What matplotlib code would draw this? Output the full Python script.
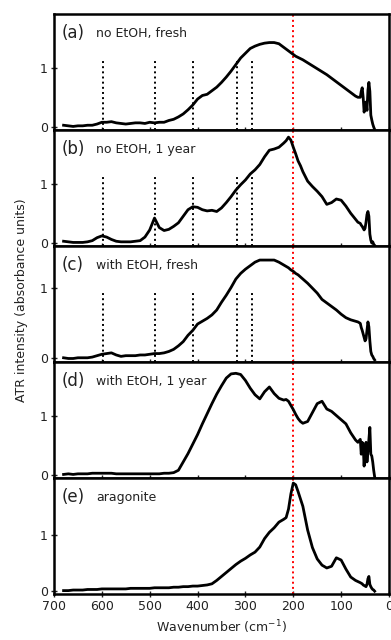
import matplotlib
matplotlib.use("Agg")
import matplotlib.pyplot as plt

# ---- data ----
wavenumber = [680, 670, 660, 650, 640, 630, 620, 610, 600, 590,
              580, 570, 560, 550, 540, 530, 520, 510, 500, 490,
              480, 470, 460, 450, 440, 430, 420, 410, 400, 390,
              380, 370, 360, 350, 340, 330, 320, 310, 300, 290,
              280, 270, 260, 250, 240, 230, 220,
              215, 210, 205, 200, 195, 190, 185, 180,
              170, 160, 150, 140, 130, 120, 110, 100, 90, 80, 70,
              65,
              60, 58, 56, 54, 52, 50, 48, 46, 44, 42, 40, 38, 36, 34, 32, 30]

no_etoh_fresh = [0.03, 0.02, 0.01, 0.02, 0.02, 0.03, 0.03, 0.05, 0.08, 0.08,
                 0.09, 0.07, 0.06, 0.05, 0.06, 0.07, 0.07, 0.06, 0.08, 0.07,
                 0.08, 0.08, 0.11, 0.13, 0.17, 0.22, 0.29, 0.37, 0.47, 0.53,
                 0.55, 0.61, 0.67, 0.75, 0.84, 0.94, 1.05, 1.16, 1.24, 1.32,
                 1.36, 1.39, 1.41, 1.42, 1.42, 1.40, 1.34,
                 1.31, 1.28, 1.25, 1.22, 1.19, 1.17, 1.15, 1.13,
                 1.08, 1.03, 0.98, 0.93, 0.88, 0.82, 0.76, 0.70, 0.64, 0.58, 0.52,
                 0.50,
                 0.50, 0.60, 0.66, 0.50, 0.25, 0.35, 0.42, 0.28, 0.62, 0.75, 0.60, 0.20, 0.12, 0.05, 0.00, -0.04]

no_etoh_1year = [0.03, 0.02, 0.01, 0.01, 0.01, 0.02, 0.04, 0.09, 0.12, 0.10,
                 0.06, 0.03, 0.02, 0.02, 0.02, 0.03, 0.04, 0.10, 0.22, 0.42,
                 0.26, 0.21, 0.23, 0.28, 0.34, 0.45, 0.56, 0.61, 0.60, 0.56,
                 0.54, 0.55, 0.53, 0.59, 0.68, 0.78, 0.89, 0.98, 1.06, 1.16,
                 1.23, 1.32, 1.45, 1.56, 1.58, 1.61, 1.68,
                 1.72, 1.78, 1.73, 1.61, 1.50, 1.38, 1.30, 1.20,
                 1.04, 0.95, 0.87, 0.78, 0.65, 0.68, 0.74, 0.72, 0.62, 0.50, 0.40,
                 0.35,
                 0.33, 0.30, 0.28, 0.25, 0.22, 0.25, 0.35, 0.48, 0.53, 0.45, 0.15, 0.05, 0.00, 0.02, -0.02, -0.04]

with_etoh_fresh = [0.01, 0.00, 0.00, 0.01, 0.01, 0.01, 0.02, 0.04, 0.06, 0.07,
                   0.08, 0.05, 0.03, 0.04, 0.04, 0.04, 0.05, 0.05, 0.06, 0.07,
                   0.07, 0.08, 0.10, 0.13, 0.18, 0.24, 0.33, 0.40, 0.49, 0.53,
                   0.57, 0.62, 0.69, 0.80, 0.90, 1.01, 1.13, 1.21, 1.27, 1.32,
                   1.37, 1.40, 1.40, 1.40, 1.40, 1.37, 1.33,
                   1.31, 1.29, 1.26, 1.24, 1.21, 1.19, 1.16, 1.13,
                   1.07, 1.00, 0.93, 0.84, 0.79, 0.74, 0.69, 0.63, 0.58, 0.55, 0.53,
                   0.52,
                   0.50, 0.44, 0.40, 0.35, 0.30, 0.25, 0.28, 0.40, 0.52, 0.45, 0.25, 0.10, 0.05, 0.03, 0.00, -0.02]

with_etoh_1year = [0.01, 0.02, 0.01, 0.02, 0.02, 0.02, 0.03, 0.03, 0.03, 0.03,
                   0.03, 0.02, 0.02, 0.02, 0.02, 0.02, 0.02, 0.02, 0.02, 0.02,
                   0.02, 0.03, 0.03, 0.04, 0.08, 0.22, 0.36, 0.52, 0.68, 0.86,
                   1.03, 1.20, 1.36, 1.50, 1.63, 1.70, 1.71, 1.69, 1.59, 1.46,
                   1.35, 1.28, 1.40, 1.48, 1.37, 1.29, 1.26,
                   1.27, 1.24, 1.17, 1.10, 1.02, 0.95, 0.90, 0.87,
                   0.90, 1.05, 1.20, 1.24, 1.11, 1.07, 1.00, 0.93, 0.86, 0.71, 0.59,
                   0.55,
                   0.60, 0.35, 0.55, 0.50, 0.15, 0.45, 0.55, 0.22, 0.40, 0.60, 0.80, 0.35, 0.32, 0.22, 0.08, -0.03]

aragonite = [0.01, 0.01, 0.02, 0.02, 0.02, 0.03, 0.03, 0.03, 0.04, 0.04,
             0.04, 0.04, 0.04, 0.04, 0.05, 0.05, 0.05, 0.05, 0.05, 0.06,
             0.06, 0.06, 0.06, 0.07, 0.07, 0.08, 0.08, 0.09, 0.09, 0.10,
             0.11, 0.13, 0.19, 0.26, 0.33, 0.40, 0.47, 0.53, 0.58, 0.64,
             0.69, 0.78, 0.93, 1.04, 1.12, 1.22, 1.27,
             1.30, 1.45, 1.72, 1.91, 1.88, 1.76, 1.63, 1.50,
             1.08, 0.77, 0.57, 0.46, 0.41, 0.44, 0.59, 0.55, 0.39, 0.25, 0.19,
             0.17,
             0.15, 0.14, 0.13, 0.11, 0.10, 0.09, 0.08, 0.12, 0.22, 0.26, 0.12, 0.08, 0.05, 0.03, 0.02, 0.00]

panel_tags = ["(a)", "(b)", "(c)", "(d)", "(e)"]
panel_names = ["no EtOH, fresh", "no EtOH, 1 year", "with EtOH, fresh",
               "with EtOH, 1 year", "aragonite"]
series = [no_etoh_fresh, no_etoh_1year, with_etoh_fresh, with_etoh_1year, aragonite]
y_limits = [(-0.05, 1.9), (-0.05, 1.9), (-0.05, 1.6), (-0.05, 1.9), (-0.05, 2.0)]
marker_lines = [598, 490, 410, 317, 287]   # black dotted guides (panels a-c)
red_line = 200
x_ticks = [700, 600, 500, 400, 300, 200, 100, 0]
y_ticks = [0, 1]

# ---- figure ----
fig = plt.figure(figsize=(3.91, 6.40), dpi=100)
left, right = 54 / 391, 389 / 391
top_px, h_px = 14, 116
text_col = "#222222"

for i in range(5):
    bottom = 1 - (top_px + (i + 1) * h_px) / 640
    ax = fig.add_axes([left, bottom, right - left, h_px / 640])
    ax.plot(wavenumber, series[i], color="black", lw=2.0, zorder=3)
    if i < 3:
        for m in marker_lines:
            ax.axvline(m, ymin=0, ymax=0.6, color="black", ls=":", lw=1.4, zorder=2)
    ax.axvline(red_line, color="red", ls=":", lw=1.4, zorder=2)
    ax.set_xlim(700, 0)
    ax.set_ylim(*y_limits[i])
    ax.set_xticks(x_ticks)
    ax.set_yticks(y_ticks)
    ax.tick_params(direction="inout", length=5, width=1.0, labelsize=9,
                   colors=text_col, pad=2)
    for s in ax.spines.values():
        s.set_linewidth(1.8)
    if i < 4:
        ax.tick_params(axis="x", labelbottom=False)
    ax.text(0.024, 0.835, panel_tags[i], transform=ax.transAxes, fontsize=12,
            va="center", ha="left", color=text_col)
    ax.text(0.125, 0.835, panel_names[i], transform=ax.transAxes, fontsize=9,
            va="center", ha="left", color=text_col)
    if i == 4:
        ax.set_xlabel("Wavenumber (cm$^{-1}$)", fontsize=9, color=text_col, labelpad=4)

fig.text(22 / 391, 1 - 300 / 640, "ATR intensity (absorbance units)", rotation=90,
         fontsize=9, va="center", ha="center", color=text_col)

fig.savefig("out.png", dpi=100)
